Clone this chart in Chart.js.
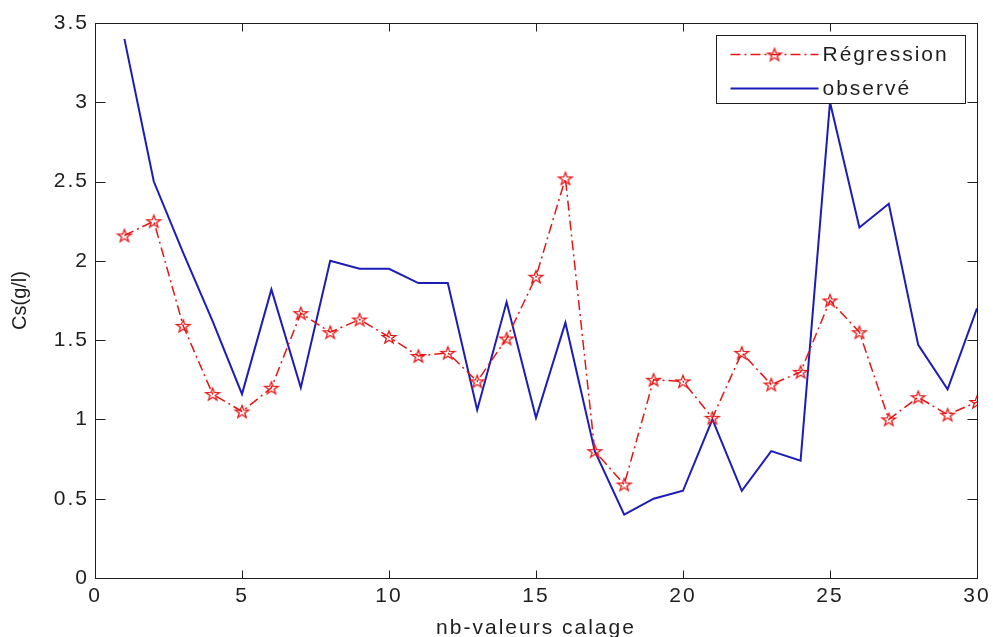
<!DOCTYPE html>
<html>
<head>
<meta charset="utf-8">
<script src="https://cdn.jsdelivr.net/npm/chart.js@4.4.1/dist/chart.umd.min.js"></script>
<style>
  html, body { margin: 0; padding: 0; background: #ffffff; }
  canvas { display: block; }
</style>
</head>
<body>
<canvas id="chart" width="993" height="637"></canvas>
<script>
// Calibration sample index
const samples = [1, 2, 3, 4, 5, 6, 7, 8, 9, 10, 11, 12, 13, 14, 15, 16, 17, 18, 19, 20, 21, 22, 23, 24, 25, 26, 27, 28, 29, 30];
// Cs (g/l) from the regression model
const regression = [2.16, 2.25, 1.59, 1.16, 1.05, 1.20, 1.67, 1.55, 1.63, 1.52, 1.40, 1.42, 1.24, 1.51, 1.90, 2.52, 0.80, 0.59, 1.25, 1.24, 1.01, 1.42, 1.22, 1.30, 1.75, 1.55, 1.00, 1.14, 1.03, 1.11];
// Cs (g/l) observed
const observed = [3.40, 2.50, 2.05, 1.62, 1.16, 1.82, 1.20, 2.00, 1.95, 1.95, 1.86, 1.86, 1.06, 1.74, 1.01, 1.61, 0.80, 0.40, 0.50, 0.55, 1.00, 0.55, 0.80, 0.74, 3.00, 2.21, 2.36, 1.47, 1.19, 1.70];
// Axis ticks
const xTickValues = [0, 5, 10, 15, 20, 25, 30];
const yTickValues = [0, 0.5, 1, 1.5, 2, 2.5, 3, 3.5];

const seriesNames = ['Régression', 'observé'];
const RED = '#e81414';
const BLUE = '#1c1cb8';
const INK = '#1e1e1e';
const FONT = "'Liberation Sans', Arial, Helvetica, sans-serif";

// Pentagram outline used as the marker of the regression series
function makeStar(color, r) {
  const size = Math.ceil(r * 2 + 4);
  const c = document.createElement('canvas');
  c.width = size; c.height = size;
  const g = c.getContext('2d');
  const cx = size / 2, cy = size / 2 + 0.6, ri = r * 0.40;
  g.beginPath();
  for (let i = 0; i < 10; i++) {
    const rad = i % 2 ? ri : r;
    const a = -Math.PI / 2 + i * Math.PI / 5;
    g.lineTo(cx + rad * Math.cos(a) * 1.08, cy + rad * Math.sin(a));
  }
  g.closePath();
  g.strokeStyle = color;
  g.lineWidth = 1.3;
  g.stroke();
  return c;
}
const starImg = makeStar(RED, 6.6);

const toPoints = (ys) => samples.map((x, i) => ({ x: x, y: ys[i] }));

// Box around the axes, inward tick marks and the legend
const framePlugin = {
  id: 'frame',
  afterUpdate(chart) {
    const ys = chart.scales.y;
    if (ys && !ys._plainTitle) {
      const orig = ys.drawTitle;
      ys.drawTitle = function () {
        const ctx = this.ctx;
        const prev = ctx.letterSpacing;
        ctx.letterSpacing = '0px';
        orig.call(this);
        ctx.letterSpacing = prev;
      };
      ys._plainTitle = true;
    }
  },
  beforeDraw(chart) {
    chart.ctx.letterSpacing = '2px';
  },
  afterDraw(chart) {
    const ctx = chart.ctx;
    const a = chart.chartArea;
    const xs = chart.scales.x, ys = chart.scales.y;
    ctx.save();
    ctx.strokeStyle = INK;
    ctx.lineWidth = 1;
    ctx.setLineDash([]);
    const L = Math.round(a.left) + 0.5, R = Math.round(a.right) + 0.5;
    const T = Math.round(a.top) + 0.5, B = Math.round(a.bottom) + 0.5;
    ctx.strokeRect(L, T, R - L, B - T);
    ctx.beginPath();
    xs.ticks.forEach(t => {
      const px = Math.round(xs.getPixelForValue(t.value)) + 0.5;
      ctx.moveTo(px, B); ctx.lineTo(px, B - 8);
      ctx.moveTo(px, T); ctx.lineTo(px, T + 8);
    });
    ys.ticks.forEach(t => {
      const py = Math.round(ys.getPixelForValue(t.value)) + 0.5;
      ctx.moveTo(L, py); ctx.lineTo(L + 10, py);
      ctx.moveTo(R, py); ctx.lineTo(R - 10, py);
    });
    ctx.stroke();

    // legend
    const w = 249, h = 68;
    const lx = Math.round(a.right) - 12 - w + 0.5;
    const ly = Math.round(a.top) + 12 + 0.5;
    ctx.fillStyle = '#ffffff';
    ctx.fillRect(lx, ly, w, h);
    ctx.strokeStyle = INK;
    ctx.strokeRect(lx, ly, w, h);
    const rows = [ly + 18, ly + 52];
    chart.data.datasets.forEach((ds, i) => {
      const y = Math.round(rows[i]) + 0.5;
      ctx.strokeStyle = ds.borderColor;
      ctx.lineWidth = ds.borderWidth;
      ctx.setLineDash(ds.borderDash || []);
      ctx.beginPath();
      ctx.moveTo(lx + 14, y);
      ctx.lineTo(lx + 102, y);
      ctx.stroke();
      ctx.setLineDash([]);
      if (ds.pointStyle && typeof ds.pointStyle === 'object') {
        const img = ds.pointStyle;
        ctx.drawImage(img, lx + 58 - img.width / 2, y - img.height / 2);
      }
      ctx.fillStyle = INK;
      ctx.font = '21px ' + FONT;
      ctx.textAlign = 'left';
      ctx.textBaseline = 'middle';
      ctx.fillText(ds.label, lx + 106, y + 1);
    });
    ctx.restore();
  }
};

new Chart(document.getElementById('chart'), {
  type: 'line',
  data: {
    datasets: [
      {
        label: seriesNames[0],
        data: toPoints(regression),
        borderColor: RED,
        backgroundColor: RED,
        borderWidth: 1.5,
        borderDash: [10, 4, 2, 4],
        pointStyle: starImg,
        pointRadius: 7,
        pointHoverRadius: 7,
        tension: 0,
        fill: false
      },
      {
        label: seriesNames[1],
        data: toPoints(observed),
        borderColor: BLUE,
        backgroundColor: BLUE,
        borderWidth: 2,
        pointRadius: 0,
        pointHoverRadius: 0,
        tension: 0,
        fill: false
      }
    ]
  },
  options: {
    responsive: false,
    animation: false,
    events: [],
    layout: { padding: { left: 0, right: 16, top: 23, bottom: 0 } },
    plugins: {
      legend: { display: false },
      tooltip: { enabled: false }
    },
    scales: {
      x: {
        type: 'linear',
        min: 0, max: 30,
        grid: { display: false, drawTicks: false },
        border: { display: false },
        afterBuildTicks: (s) => { s.ticks = xTickValues.map(v => ({ value: v })); },
        afterFit: (s) => { s.height = 59; s.paddingLeft = 0; s.paddingRight = 0; },
        ticks: {
          autoSkip: false,
          maxRotation: 0,
          padding: 6,
          color: INK,
          font: { family: FONT, size: 21 },
          callback: (v) => String(v)
        },
        title: {
          display: true,
          text: 'nb-valeurs calage',
          color: INK,
          padding: { top: 0, bottom: 0 },
          font: { family: FONT, size: 21, lineHeight: 0.85 }
        }
      },
      y: {
        type: 'linear',
        min: 0, max: 3.5,
        grid: { display: false, drawTicks: false },
        border: { display: false },
        afterBuildTicks: (s) => { s.ticks = yTickValues.map(v => ({ value: v })); },
        afterFit: (s) => { s.width = 95; s.paddingTop = 0; s.paddingBottom = 0; },
        ticks: {
          autoSkip: false,
          padding: 6,
          color: INK,
          font: { family: FONT, size: 21 },
          callback: (v) => String(v)
        },
        title: {
          display: true,
          text: 'Cs(g/l)',
          color: INK,
          padding: { top: 8, bottom: 0 },
          font: { family: FONT, size: 20 }
        }
      }
    }
  },
  plugins: [framePlugin]
});
</script>
</body>
</html>
